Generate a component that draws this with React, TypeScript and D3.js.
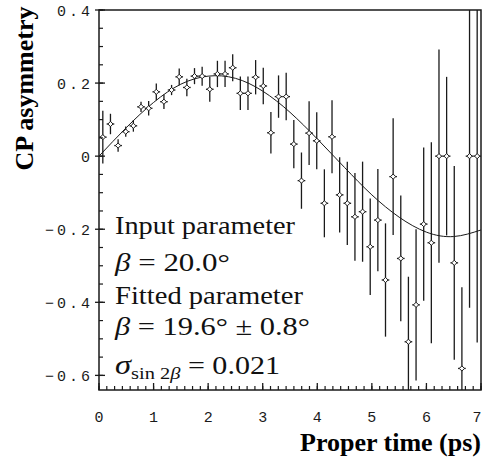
import React from 'react';
import * as d3 from 'd3';

// ---- data ----
const times = [0.07, 0.21, 0.35, 0.49, 0.63, 0.77, 0.91, 1.05, 1.19, 1.33,
  1.47, 1.61, 1.75, 1.89, 2.03, 2.17, 2.31, 2.45, 2.59, 2.73,
  2.87, 3.01, 3.15, 3.29, 3.43, 3.57, 3.71, 3.85, 3.99, 4.13,
  4.27, 4.41, 4.55, 4.69, 4.83, 4.97, 5.11, 5.25, 5.39, 5.53,
  5.67, 5.81, 5.95, 6.09, 6.23, 6.37, 6.51, 6.65, 6.79, 6.93];
const asym = [0.052, 0.088, 0.029, 0.067, 0.083, 0.135, 0.131, 0.176, 0.149, 0.181,
  0.217, 0.188, 0.219, 0.219, 0.183, 0.225, 0.225, 0.242, 0.172, 0.172,
  0.216, 0.192, 0.064, 0.163, 0.163, 0.033, -0.067, 0.063, 0.042, -0.129,
  0.053, -0.106, -0.129, -0.166, -0.152, -0.248, -0.175, -0.339, -0.056, -0.280,
  -0.508, -0.407, -0.186, -0.237, 0.0, 0.0, -0.292, -0.581, 0.0, 0.0];
const errs = [0.072, 0.028, 0.017, 0.014, 0.016, 0.014, 0.02, 0.023, 0.02, 0.014,
  0.023, 0.024, 0.022, 0.026, 0.034, 0.036, 0.036, 0.037, 0.046, 0.046,
  0.047, 0.05, 0.057, 0.058, 0.065, 0.066, 0.077, 0.087, 0.078, 0.093,
  0.1, 0.103, 0.114, 0.12, 0.137, 0.132, 0.14, 0.155, 0.16, 0.172,
  0.178, 0.207, 0.21, 0.275, 0.292, 0.217, 0.265, 0.222, 0.415, 0.51];
const binHalf = 0.07;

const fitT = [0, 0.5, 1, 1.5, 2, 2.5, 3, 3.5, 4, 4.5, 5, 5.5, 6, 6.5, 7];
const fitV = [0.0, 0.078, 0.147, 0.197, 0.219, 0.213, 0.178, 0.12, 0.047, -0.031,
  -0.106, -0.167, -0.208, -0.22, -0.202];

const xTicks = [0, 1, 2, 3, 4, 5, 6, 7];
const xTickLabels = ['0', '1', '2', '3', '4', '5', '6', '7'];
const yTicks = [0.4, 0.2, 0, -0.2, -0.4, -0.6];
const yTickLabels = ['0.4', '0.2', '0', '\u22120.2', '\u22120.4', '\u22120.6'];

const W = 483, H = 464;
const L = 99, R = 481, T = 10, B = 390;
const INK = '#1a1a1a';

export default function App() {
  const x = d3.scaleLinear().domain([0, 7]).range([L, R]);
  const y = d3.scaleLinear().domain([-0.64, 0.4]).range([B, T]);

  const minorX = d3.range(0, 50).map((k) => k / 7);
  const minorY = d3.range(-12, 9).map((k) => k * 0.05);

  const line = d3.line<number>()
    .x((_, i) => x(fitT[i]))
    .y((d) => y(d))
    .curve(d3.curveNatural);

  const diamond = (cx: number, cy: number, r: number) =>
    `M${cx},${cy - r}L${cx + r},${cy}L${cx},${cy + r}L${cx - r},${cy}Z`;

  const serif = '"Liberation Serif", "Times New Roman", serif';
  const mono = '"Liberation Mono", "DejaVu Sans Mono", monospace';
  const ls = 3;

  return (
    <svg width={W} height={H} style={{ position: 'absolute', left: 0, top: 0, background: '#fff' }}>
      <defs>
        <clipPath id="plotClip">
          <rect x={L} y={T} width={R - L} height={B - T} />
        </clipPath>
      </defs>
      <rect x={0} y={0} width={W} height={H} fill="#fff" />

      {/* fit curve */}
      <path d={line(fitV) || ''} fill="none" stroke={INK} strokeWidth={1} clipPath="url(#plotClip)" />

      {/* data points */}
      <g clipPath="url(#plotClip)" stroke={INK} strokeWidth={1.3}>
        {times.map((t, i) => (
          <g key={i}>
            <line x1={x(t)} x2={x(t)} y1={y(asym[i] + errs[i])} y2={y(asym[i] - errs[i])} />
            <line x1={x(t - binHalf)} x2={x(t + binHalf)} y1={y(asym[i])} y2={y(asym[i])} />
            <path d={diamond(x(t), y(asym[i]), 2.6)} fill="#fff" strokeWidth={1} />
          </g>
        ))}
      </g>

      {/* frame */}
      <rect x={L} y={T} width={R - L} height={B - T} fill="none" stroke={INK} strokeWidth={1.5} />

      {/* y ticks */}
      {minorY.map((v, i) => (
        <line key={'my' + i} x1={L} x2={L + 4} y1={y(v)} y2={y(v)} stroke={INK} strokeWidth={1.2} />
      ))}
      {yTicks.map((v, i) => (
        <line key={'My' + i} x1={L - 4} x2={L + 6} y1={y(v)} y2={y(v)} stroke={INK} strokeWidth={1.3} />
      ))}
      {yTicks.map((v, i) => (
        <text key={'ly' + i} x={90 + ls} y={y(v) + 6} textAnchor="end" fontFamily={mono}
          fontSize={15} letterSpacing={ls} fill={INK}>{yTickLabels[i]}</text>
      ))}

      {/* x ticks */}
      {minorX.map((v, i) => (
        <line key={'mx' + i} x1={x(v)} x2={x(v)} y1={B} y2={B - 4} stroke={INK} strokeWidth={1.2} />
      ))}
      {xTicks.map((v, i) => (
        <line key={'Mx' + i} x1={x(v)} x2={x(v)} y1={B} y2={B - 7} stroke={INK} strokeWidth={1.3} />
      ))}
      {xTicks.map((v, i) => (
        <text key={'lx' + i} x={Math.min(x(v), 477)} y={422} textAnchor="middle" fontFamily={mono}
          fontSize={15} fill={INK}>{xTickLabels[i]}</text>
      ))}

      {/* axis titles */}
      <text x={300} y={451} fontFamily={serif} fontWeight="bold" fontSize={26} fill="#000">Proper time (ps)</text>
      <text transform="translate(33,88.5) rotate(-90)" textAnchor="middle" fontFamily={serif}
        fontWeight="bold" fontSize={26} fill="#000">CP asymmetry</text>

      {/* annotation */}
      <g fontFamily={serif} fontSize={25} fill="#111">
        <text x={115} y={234} textLength={180} lengthAdjust="spacingAndGlyphs">Input parameter</text>
        <text x={115} y={271} textLength={115} lengthAdjust="spacingAndGlyphs">
          <tspan fontStyle="italic">β</tspan> = 20.0°
        </text>
        <text x={115} y={304} textLength={188} lengthAdjust="spacingAndGlyphs">Fitted parameter</text>
        <text x={115} y={335} textLength={195} lengthAdjust="spacingAndGlyphs">
          <tspan fontStyle="italic">β</tspan> = 19.6° ± 0.8°
        </text>
        <text x={115} y={374} textLength={165} lengthAdjust="spacingAndGlyphs">
          <tspan fontStyle="italic" fontSize={27}>σ</tspan>
          <tspan fontSize={17} dy={5}>sin 2<tspan fontStyle="italic">β</tspan></tspan>
          <tspan dy={-5}> = 0.021</tspan>
        </text>
      </g>
    </svg>
  );
}
